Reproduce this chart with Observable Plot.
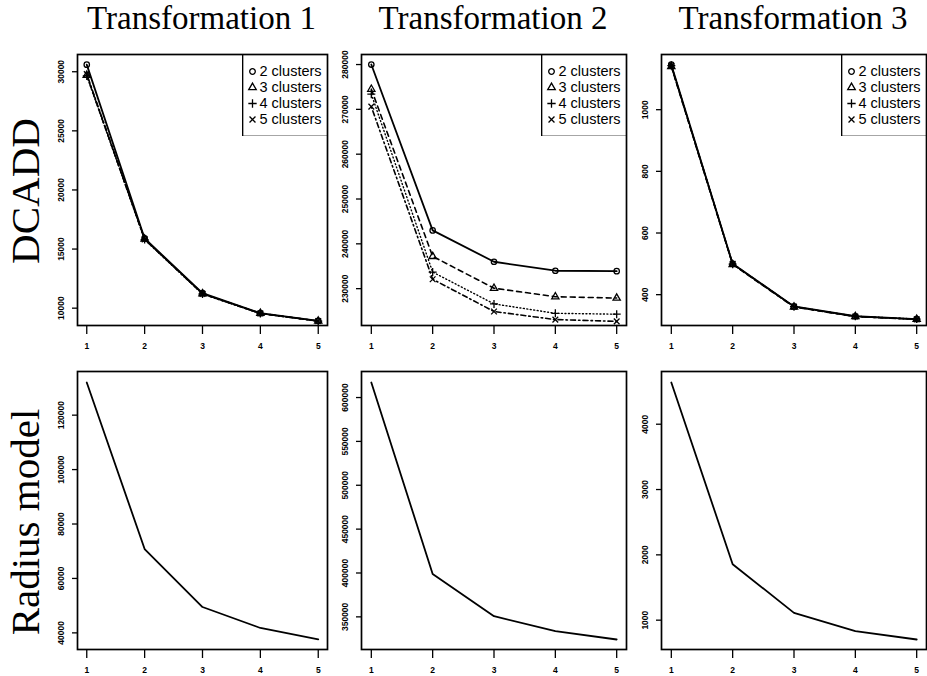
<!DOCTYPE html>
<html><head><meta charset="utf-8">
<script src="https://cdn.jsdelivr.net/npm/d3@7"></script>
<script src="https://cdn.jsdelivr.net/npm/@observablehq/plot@0.6"></script>
<style>
body{margin:0;background:#fff;}
#chart{position:relative;width:927px;height:676px;overflow:hidden;background:#fff;}
.title{position:absolute;font-family:"Liberation Serif","Times New Roman",serif;font-size:33px;color:#000;white-space:nowrap;transform:translateX(-50%);line-height:1.15;}
.rowlab{position:absolute;font-family:"Liberation Serif","Times New Roman",serif;font-size:41px;color:#000;white-space:nowrap;transform:translate(-50%,-50%) rotate(-90deg);line-height:1;}
</style></head><body><div id="chart"></div><script>
// ---------- data ----------
const kValues = [1, 2, 3, 4, 5];
const columnTitles = ["Transformation 1", "Transformation 2", "Transformation 3"];
const rowTitles = ["DCADD", "Radius model"];
const seriesNames = ["2 clusters", "3 clusters", "4 clusters", "5 clusters"];

// DCADD, Transformation 1
const dcaddT1c2 = [30600, 15900, 11270, 9580, 8930];
const dcaddT1c3 = [29700, 15850, 11230, 9560, 8920];
const dcaddT1c4 = [29650, 15800, 11200, 9540, 8900];
const dcaddT1c5 = [29800, 15820, 11210, 9550, 8910];
// DCADD, Transformation 2
const dcaddT2c2 = [280000, 243000, 236000, 234000, 233900];
const dcaddT2c3 = [274500, 237200, 230100, 228200, 227900];
const dcaddT2c4 = [273400, 233700, 226600, 224500, 224300];
const dcaddT2c5 = [270600, 232100, 224900, 223100, 222700];
// DCADD, Transformation 3
const dcaddT3c2 = [1146, 500, 362, 330, 321];
const dcaddT3c3 = [1140, 498, 360, 329, 320];
const dcaddT3c4 = [1143, 499, 361, 330, 321];
const dcaddT3c5 = [1142, 500, 361, 329, 320];
// Radius model
const radiusT1 = [132000, 70800, 49500, 41800, 37600];
const radiusT2 = [617100, 398900, 350800, 333700, 324200];
const radiusT3 = [4638, 1857, 1112, 831, 704];

// axis ticks and limits
const xTicks = [1, 2, 3, 4, 5];
const yTicksDcaddT1 = [10000, 15000, 20000, 25000, 30000];
const yTicksDcaddT2 = [230000, 240000, 250000, 260000, 270000, 280000];
const yTicksDcaddT3 = [400, 600, 800, 1000];
const yTicksRadiusT1 = [40000, 60000, 80000, 100000, 120000];
const yTicksRadiusT2 = [350000, 400000, 450000, 500000, 550000, 600000];
const yTicksRadiusT3 = [1000, 2000, 3000, 4000];
const yLimDcaddT1 = [8534, 31458];
const yLimDcaddT2 = [221780, 282240];
const yLimDcaddT3 = [300, 1179];
const yLimRadiusT1 = [33890, 136040];
const yLimRadiusT2 = [312790, 629680];
const yLimRadiusT3 = [551, 4807];

// ---------- layout ----------
const colX = [[76.5, 326.5], [360.5, 625.5], [660.5, 925.5]];
const rowY = [[53.5, 324.5], [370.5, 648.5]];
const symbols = ["circle", "triangle", "plus", "times"];
const dashes = [null, "5,4", "1,2.5", "1.5,3,5,3"];
const widths = [1.8, 1.6, 1.4, 1.6];

const chart = document.getElementById("chart");
const xDomain = [1 - 0.04 * 4, 5 + 0.04 * 4];
const rows = arr => kValues.map((k, i) => ({k, v: arr[i]}));

function panel(col, row, yDomain, yTicks, seriesList, withSymbols) {
  const [x0, x1] = colX[col], [y0, y1] = rowY[row];
  const mL = 40, mR = 1, mT = 1, mB = 30;
  const marks = [];
  seriesList.forEach((arr, i) => {
    const opts = {x: "k", y: "v", stroke: "black", strokeWidth: withSymbols ? widths[i] : 1.8};
    if (dashes[i]) opts.strokeDasharray = dashes[i];
    marks.push(Plot.line(rows(arr), opts));
    if (withSymbols) marks.push(Plot.dot(rows(arr), {x: "k", y: "v", symbol: symbols[i], r: 2.7, stroke: "black", strokeWidth: 1.3, fill: "none"}));
  });
  const svg = Plot.plot({
    width: x1 - x0 + mL + mR, height: y1 - y0 + mT + mB,
    marginLeft: mL, marginRight: mR, marginTop: mT, marginBottom: mB,
    x: {domain: xDomain, label: null},
    y: {domain: yDomain, label: null},
    style: {fontFamily: "'Liberation Sans', Arial, sans-serif", fontSize: "8.5px", fontWeight: "bold", color: "black", background: "transparent", overflow: "visible"},
    marks: [
      Plot.axisX({ticks: xTicks, tickSize: 9, tickPadding: 8, tickFormat: d3.format("d"), label: null, strokeWidth: 1.3}),
      Plot.axisY({ticks: yTicks, tickSize: 5, tickRotate: -90, tickPadding: 9, tickFormat: d3.format("d"), label: null, strokeWidth: 1.3}),
      ...marks,
      Plot.frame({stroke: "black", strokeWidth: 1.7})
    ]
  });
  svg.style.position = "absolute";
  svg.style.left = (x0 - mL) + "px";
  svg.style.top = (y0 - mT) + "px";
  chart.appendChild(svg);
  if (withSymbols) legend(x1, y0);
}

function legend(xRight, yTop) {
  const w = 85, h = 82;
  const svg = Plot.plot({
    width: w, height: h, margin: 0,
    y: {type: "point", domain: seriesNames, range: [17.2, 65.5], padding: 0, axis: null},
    symbol: {domain: seriesNames, range: symbols},
    style: {fontFamily: "'Liberation Sans', Arial, sans-serif", fontSize: "14.5px", color: "black", background: "white"},
    marks: [
      Plot.dot(seriesNames, {y: d => d, symbol: d => d, frameAnchor: "left", dx: 10, r: 2.8, stroke: "black", strokeWidth: 1.3, fill: "none"}),
      Plot.text(seriesNames, {y: d => d, text: d => d, frameAnchor: "left", dx: 17, textAnchor: "start", fill: "black"}),
      Plot.frame({stroke: "black", strokeWidth: 1.7})
    ]
  });
  svg.style.position = "absolute";
  svg.style.left = (xRight - w) + "px";
  svg.style.top = yTop + "px";
  chart.appendChild(svg);
}

panel(0, 0, yLimDcaddT1, yTicksDcaddT1, [dcaddT1c2, dcaddT1c3, dcaddT1c4, dcaddT1c5], true);
panel(1, 0, yLimDcaddT2, yTicksDcaddT2, [dcaddT2c2, dcaddT2c3, dcaddT2c4, dcaddT2c5], true);
panel(2, 0, yLimDcaddT3, yTicksDcaddT3, [dcaddT3c2, dcaddT3c3, dcaddT3c4, dcaddT3c5], true);
panel(0, 1, yLimRadiusT1, yTicksRadiusT1, [radiusT1], false);
panel(1, 1, yLimRadiusT2, yTicksRadiusT2, [radiusT2], false);
panel(2, 1, yLimRadiusT3, yTicksRadiusT3, [radiusT3], false);

columnTitles.forEach((t, i) => {
  const d = document.createElement("div");
  d.className = "title";
  d.textContent = t;
  d.style.left = ((colX[i][0] + colX[i][1]) / 2) + "px";
  d.style.top = "0px";
  chart.appendChild(d);
});
rowTitles.forEach((t, i) => {
  const d = document.createElement("div");
  d.className = "rowlab";
  d.textContent = t;
  d.style.left = "25px";
  d.style.top = ((rowY[i][0] + rowY[i][1]) / 2 + (i ? 12 : 2)) + "px";
  chart.appendChild(d);
});
</script></body></html>
